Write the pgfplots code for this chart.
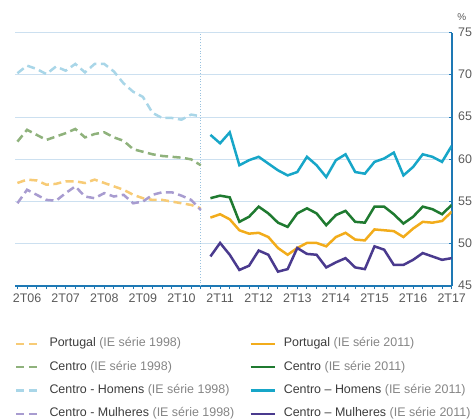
\documentclass[border=0pt]{standalone}
\usepackage{fontspec}
\setmainfont{Liberation Sans}
\usepackage{xcolor}
\usepackage{pgfplots}
\usepackage{pgfplotstable}
\pgfplotsset{compat=1.18}

\definecolor{oldport}{HTML}{F7CB76}
\definecolor{oldcentro}{HTML}{8FB27C}
\definecolor{oldhom}{HTML}{A9D6E8}
\definecolor{oldmul}{HTML}{A89CD0}
\definecolor{newport}{HTML}{F2AC1B}
\definecolor{newcentro}{HTML}{1F7A30}
\definecolor{newhom}{HTML}{17A6C8}
\definecolor{newmul}{HTML}{4A3A8E}
\definecolor{axisblue}{HTML}{1E78B4}
\definecolor{gridblue}{HTML}{CCE0F0}
\definecolor{ticktext}{HTML}{5A5A5A}
\definecolor{legdark}{HTML}{3C3C3C}
\definecolor{leglight}{HTML}{858585}

% IE serie 1998: 1T06 (q=0) .. 4T10 (q=19)
\pgfplotstableread{
q  port  centro hom   mul
0  57.2  62.1   70.2  54.8
1  57.6  63.5   71.1  56.4
2  57.5  62.9   70.7  55.8
3  57.0  62.3   70.1  55.2
4  57.1  62.7   71.0  55.1
5  57.4  63.1   70.5  56.0
6  57.4  63.6   71.3  56.8
7  57.2  62.6   70.3  55.6
8  57.6  63.0   71.3  55.4
9  57.2  63.2   71.3  56.0
10 56.8  62.6   70.4  55.6
11 56.4  62.2   69.0  55.8
12 55.8  61.2   68.0  54.8
13 55.4  60.9   67.4  55.0
14 55.2  60.6   65.5  55.8
15 55.2  60.4   64.9  56.1
16 55.0  60.3   64.9  56.1
17 54.8  60.2   64.7  55.7
18 54.6  60.0   65.3  55.2
19 54.2  59.3   65.1  54.0
}\serieold

% IE serie 2011: 1T11 (q=20) .. 2T17 (q=45)
\pgfplotstableread{
q  port  centro hom   mul
20 53.1  55.4   62.9  48.5
21 53.5  55.7   61.9  50.1
22 52.9  55.5   63.2  48.7
23 51.6  52.6   59.3  46.9
24 51.2  53.2   59.9  47.4
25 51.3  54.4   60.3  49.2
26 50.8  53.6   59.5  48.7
27 49.5  52.5   58.7  46.7
28 48.7  52.0   58.1  47.0
29 49.5  53.6   58.5  49.5
30 50.1  54.2   60.3  48.8
31 50.1  53.6   59.3  48.7
32 49.7  52.2   57.9  47.2
33 50.8  53.4   59.9  47.8
34 51.3  53.9   60.6  48.3
35 50.5  52.6   58.5  47.2
36 50.4  52.5   58.3  47.0
37 51.7  54.4   59.7  49.7
38 51.6  54.4   60.1  49.3
39 51.5  53.5   60.8  47.5
40 50.8  52.4   58.1  47.5
41 51.8  53.2   59.1  48.1
42 52.6  54.4   60.6  48.9
43 52.5  54.1   60.3  48.5
44 52.7  53.5   59.7  48.1
45 53.8  54.6   61.6  48.3
}\serienew

\begin{document}
\begin{tikzpicture}
\begin{axis}[
  name=ax,
  at={(0,0)}, anchor=south west,
  scale only axis,
  width=436.7bp, height=253.3bp,
  xmin=-0.25, xmax=45, ymin=45, ymax=75,
  xtick={1,5,...,45},
  xticklabels={2T06,2T07,2T08,2T09,2T10,2T11,2T12,2T13,2T14,2T15,2T16,2T17},
  minor xtick={0,...,45},
  ytick={45,50,...,75},
  ymajorgrids,
  grid style={gridblue, line width=0.9bp},
  axis x line*=bottom, axis y line*=right,
  axis line style={-, draw=axisblue, line width=1.6bp},
  tick align=inside,
  major tick length=3bp, minor tick length=3bp,
  xtick style={draw=axisblue, line width=1bp, yshift=-3bp},
  ytick style={draw=axisblue, line width=1bp},
  /pgf/number format/assume math mode=true,
  ticklabel style={font=\fontsize{12.5}{14}\selectfont, text=ticktext},
  xticklabel style={yshift=-4bp},
  yticklabel style={xshift=3bp, yshift=0.5bp},
  legend columns=2,
  legend image code/.code={\draw[#1] (0bp,0bp) -- (24bp,0bp);},
  legend style={
    at={(axis description cs:0,-0.205)}, anchor=north west,
    draw=none, fill=none, inner sep=0pt, outer sep=0pt,
    font=\fontsize{12.5}{14}\selectfont,
    nodes={inner sep=0pt, text height=9bp, text depth=3bp},
    row sep=11.3bp,
    /tikz/every odd column/.append style={column sep=8bp},
    /tikz/every even column/.append style={column sep=15bp},
  },
  legend cell align=left,
  old/.style={line width=2.5bp, dash pattern=on 8bp off 4.5bp},
  new/.style={line width=2.5bp},
]
\addplot[forget plot, gridblue!70!axisblue, line width=0.8bp, dotted] coordinates {(19,45) (19,75)};

\addplot[old, oldport] table[x=q, y=port] {\serieold};
\addlegendentry{{\color{legdark}Portugal} {\color{leglight}(IE série 1998)}}
\addplot[new, newport] table[x=q, y=port] {\serienew};
\addlegendentry{{\color{legdark}Portugal} {\color{leglight}(IE série 2011)}}
\addplot[old, oldcentro] table[x=q, y=centro] {\serieold};
\addlegendentry{{\color{legdark}Centro} {\color{leglight}(IE série 1998)}}
\addplot[new, newcentro] table[x=q, y=centro] {\serienew};
\addlegendentry{{\color{legdark}Centro} {\color{leglight}(IE série 2011)}}
\addplot[old, oldhom] table[x=q, y=hom] {\serieold};
\addlegendentry{{\color{legdark}Centro - Homens} {\color{leglight}(IE série 1998)}}
\addplot[new, newhom] table[x=q, y=hom] {\serienew};
\addlegendentry{{\color{legdark}Centro – Homens} {\color{leglight}(IE série 2011)}}
\addplot[old, oldmul] table[x=q, y=mul] {\serieold};
\addlegendentry{{\color{legdark}Centro - Mulheres} {\color{leglight}(IE série 1998)}}
\addplot[new, newmul] table[x=q, y=mul] {\serienew};
\addlegendentry{{\color{legdark}Centro – Mulheres} {\color{leglight}(IE série 2011)}}
\end{axis}
\node[font=\fontsize{10}{12}\selectfont, text=ticktext] at (ax.north east) [xshift=10bp, yshift=15.5bp] {\%};
\pgfresetboundingbox
\path[use as bounding box] (-15bp,-134bp) rectangle (458bp,286bp);
\end{tikzpicture}
\end{document}
